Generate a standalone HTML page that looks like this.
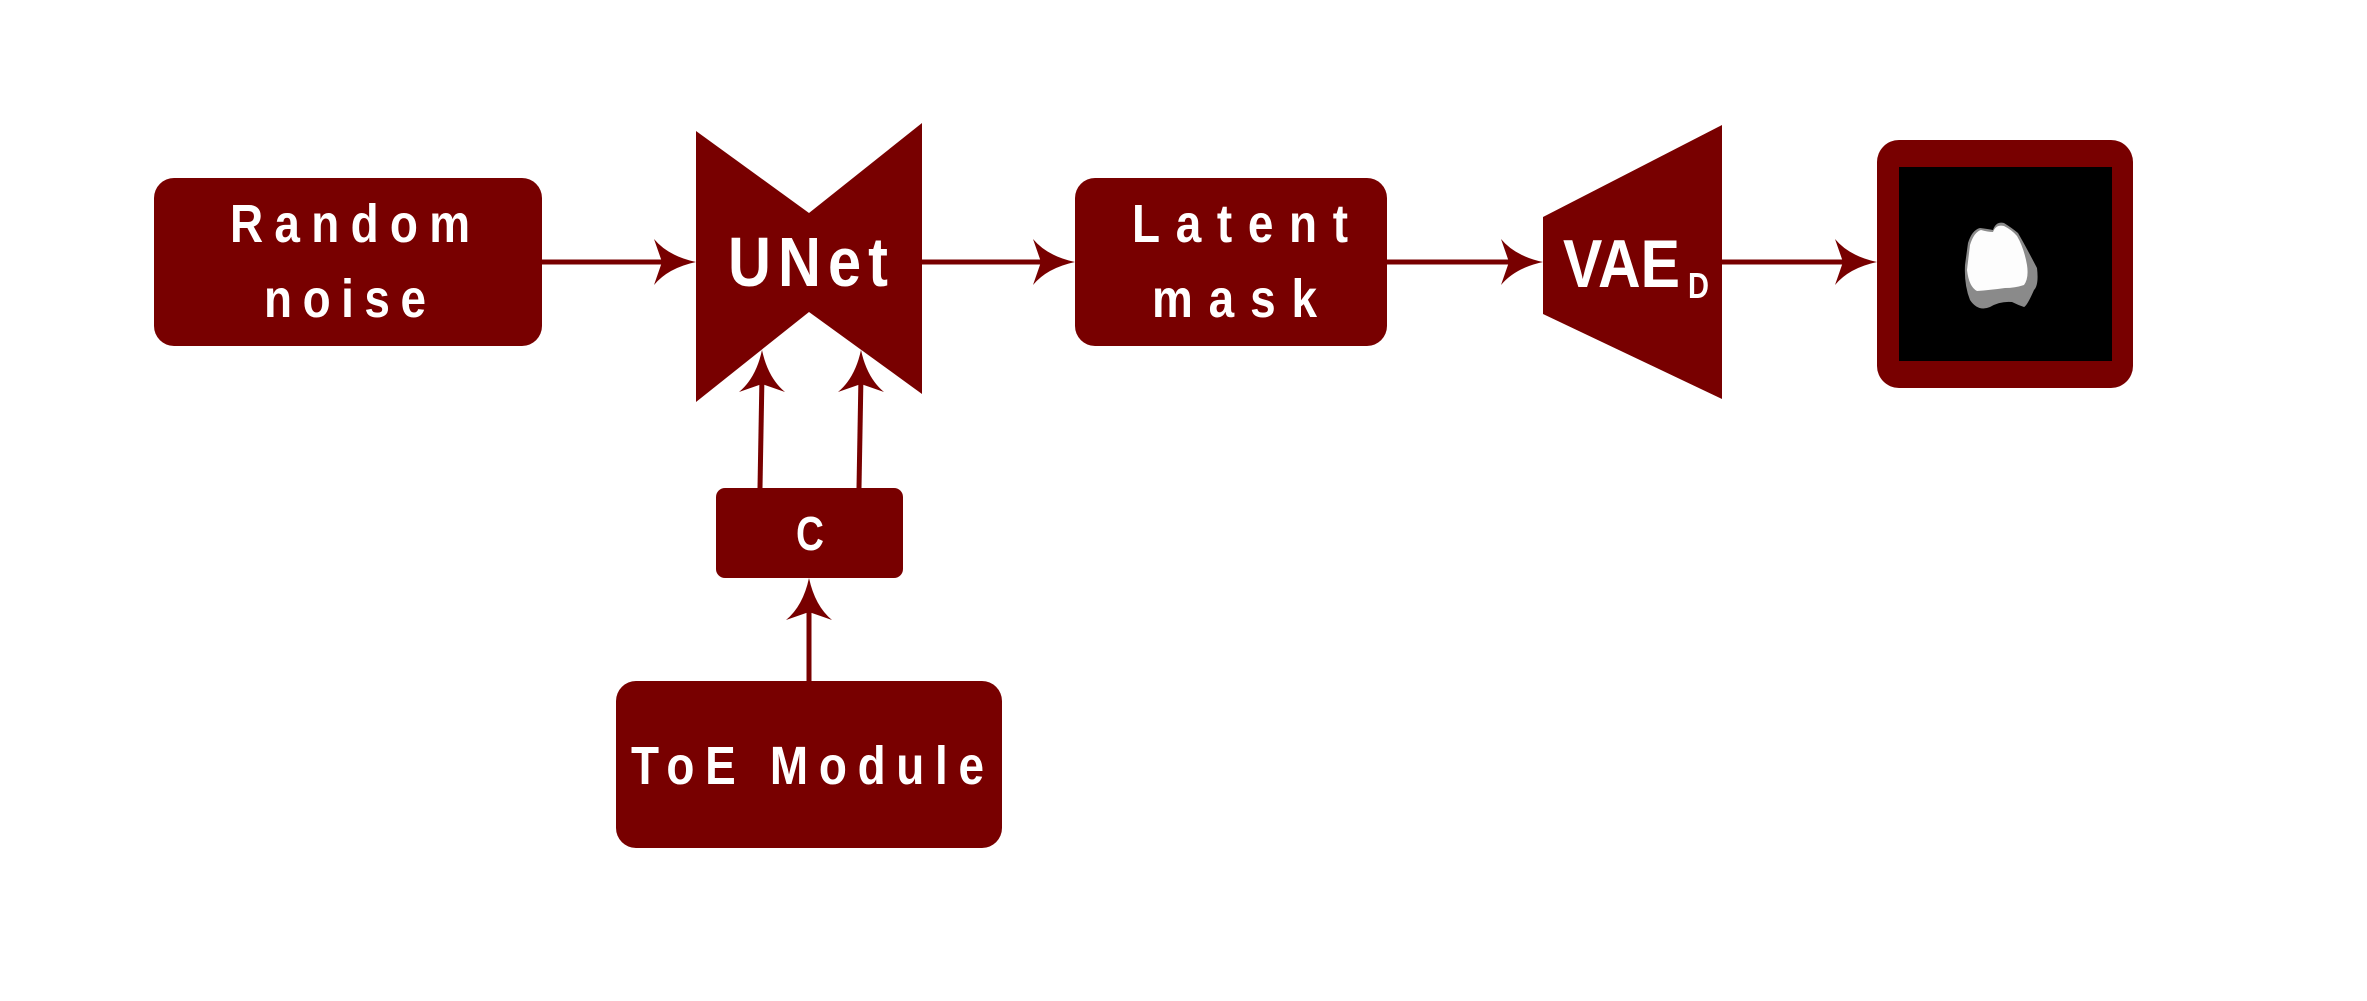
<!DOCTYPE html>
<html><head><meta charset="utf-8"><style>
html,body{margin:0;padding:0;background:#fff;}
svg{display:block;}
text{font-family:"Liberation Sans",sans-serif;font-weight:bold;fill:#fff;}
</style></head><body>
<svg width="2367" height="1001" viewBox="0 0 2367 1001" xmlns="http://www.w3.org/2000/svg">
<defs>
<path id="ah" d="M0 0 Q-28 -6 -42 -23 L-34 0 L-42 23 Q-28 6 0 0 Z" fill="#780000"/>
</defs>
<g fill="#780000">
<rect x="154" y="178" width="388" height="168" rx="20"/>
<polygon points="696,131 809,213 809,312 696,402"/>
<polygon points="809,213 922,123 922,394 809,312"/>
<rect x="1075" y="178" width="312" height="168" rx="20"/>
<polygon points="1543,217 1722,125 1722,399 1543,314"/>
<rect x="1877" y="140" width="256" height="248" rx="22"/>
<rect x="716" y="488" width="187" height="90" rx="9"/>
<rect x="616" y="681" width="386" height="167" rx="20"/>
</g>
<rect x="1899" y="167" width="213" height="194" fill="#000"/>
<path d="M1968 243 Q1972 230 1980 228 Q1988 229 1993 230 Q1996 221 2004 223 Q2012 228 2018 233 Q2025 245 2037 268 Q2039 285 2034 290 Q2027 306 2024 307 Q2018 305 2012 302 Q2000 301 1990 307 Q1978 312 1970 300 Q1964 285 1965 265 Z" fill="#8a8a8a"/>
<path d="M1970 245 Q1974 232 1981 230 Q1988 232 1993 232 Q1996 224 2004 226 Q2012 230 2017 236 Q2024 248 2027 265 Q2029 278 2024 285 Q2015 288 2005 288 Q1990 290 1977 291 Q1969 287 1967 270 Z" fill="#fdfdfd"/>
<g stroke="#780000" stroke-width="5" fill="none">
<line x1="542" y1="262" x2="670" y2="262"/>
<line x1="922" y1="262" x2="1050" y2="262"/>
<line x1="1387" y1="262" x2="1518" y2="262"/>
<line x1="1722" y1="262" x2="1850" y2="262"/>
<line x1="760" y1="488" x2="762" y2="375"/>
<line x1="859" y1="488" x2="861" y2="375"/>
<line x1="809" y1="681" x2="809" y2="602"/>
</g>
<use href="#ah" transform="translate(696,262)"/>
<use href="#ah" transform="translate(1075,262)"/>
<use href="#ah" transform="translate(1543,262)"/>
<use href="#ah" transform="translate(1877,262)"/>
<use href="#ah" transform="translate(762,350) rotate(-90)"/>
<use href="#ah" transform="translate(861,350) rotate(-90)"/>
<use href="#ah" transform="translate(809,578) rotate(-90)"/>
<g transform="scale(0.85 1)">
<text x="270.6" y="242" font-size="54" textLength="282.4" lengthAdjust="spacing">Random</text>
<text x="310.6" y="317" font-size="54" textLength="190.6" lengthAdjust="spacing">noise</text>
<text x="856.5" y="286" font-size="70" textLength="188.2" lengthAdjust="spacing">UNet</text>
<text x="1331.8" y="242" font-size="54" textLength="254.1" lengthAdjust="spacing">Latent</text>
<text x="1355.3" y="317" font-size="54" textLength="194.1" lengthAdjust="spacing">mask</text>
<text x="1838.8" y="287" font-size="68" textLength="137.6" lengthAdjust="spacingAndGlyphs">VAE</text>
<text x="1985.9" y="298" font-size="36" textLength="24.7" lengthAdjust="spacingAndGlyphs">D</text>
<text x="936.5" y="550" font-size="48" textLength="32.9" lengthAdjust="spacingAndGlyphs">C</text>
<text x="742.4" y="784" font-size="54" textLength="415.3" lengthAdjust="spacing">ToE Module</text>
</g>
</svg>
</body></html>
